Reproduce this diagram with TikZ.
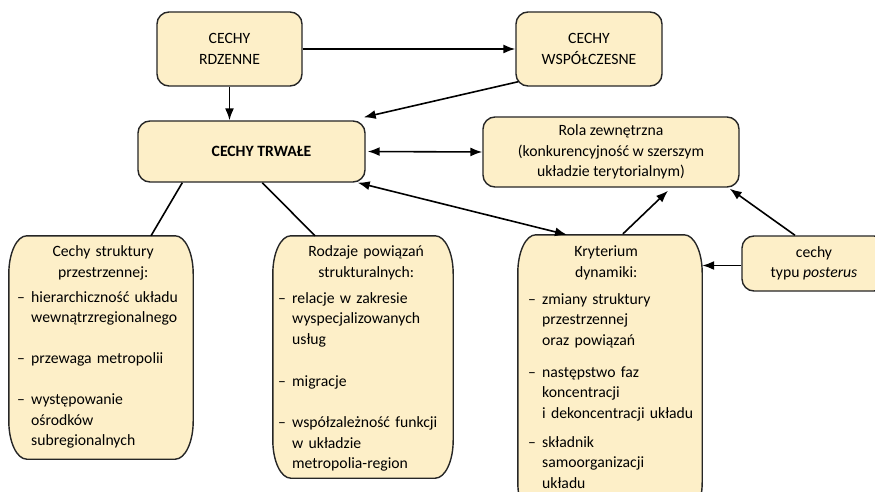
\documentclass[tikz,border=0pt]{standalone}
\usepackage{fontspec}
\setmainfont{Carlito}
\usetikzlibrary{arrows.meta,calc}
\definecolor{boxfill}{HTML}{FDEFC8}
\definecolor{boxline}{HTML}{262626}
\newcommand{\fs}{\fontsize{15.7}{20.5}\selectfont}
\newcommand{\dashitem}[1]{\par\hangindent=14pt\hangafter=1\noindent\makebox[14pt][l]{–}#1\par}
\newcommand{\hdr}[2]{\makebox[#1][c]{#2}}
\newcommand{\curvyframe}[1]{%
  \draw[boxborder] ([xshift=18pt]#1.north west) -- ([xshift=-18pt]#1.north east)
    arc[start angle=90,end angle=0,x radius=18pt,y radius=38pt]
    -- ([yshift=38pt]#1.south east)
    arc[start angle=0,end angle=-90,x radius=18pt,y radius=38pt]
    -- ([xshift=18pt]#1.south west)
    arc[start angle=-90,end angle=-180,x radius=18pt,y radius=38pt]
    -- ([yshift=-38pt]#1.north west)
    arc[start angle=180,end angle=90,x radius=18pt,y radius=38pt]
    -- cycle;}
\tikzset{
  boxborder/.style={draw=boxline, line width=1.4pt, fill=boxfill},
  topbox/.style={boxborder, rounded corners=12pt, align=center, inner sep=0pt},
  frame/.style={minimum width=#1, inner sep=0pt},
  bodytext/.style={anchor=north west, inner sep=0pt, text width=250pt,
    execute at begin node={\setlength{\parindent}{0pt}\raggedright}},
  arr/.style={line width=1.6pt, draw=black, -{Latex[length=12pt,width=9pt]}},
  dbl/.style={line width=1.6pt, draw=black, {Latex[length=12pt,width=9pt]}-{Latex[length=12pt,width=9pt]}},
  plainline/.style={line width=1.6pt, draw=black}
}
\begin{document}
\begin{tikzpicture}[x=1pt,y=-1pt, every node/.style={font=\fs}]
\clip (0,0) rectangle (875,492);
\fill[white] (0,0) rectangle (875,492);
% top boxes
\node[topbox, minimum width=145pt, minimum height=74pt] (rdz) at (229.5,49) {CECHY\\RDZENNE};
\node[topbox, minimum width=146pt, minimum height=74pt] (wsp) at (589,49) {CECHY\\WSPÓŁCZESNE};
\node[topbox, minimum width=227pt, minimum height=61pt] (trw) at (251.5,151.5) {\hspace*{20pt}\textbf{CECHY TRWAŁE}};
\node[topbox, minimum width=256pt, minimum height=70pt] (rola) at (611,152) {Rola zewnętrzna\\(konkurencyjność w szerszym\\układzie terytorialnym)};
\node[topbox, minimum width=144pt, minimum height=55pt] (post) at (814,263.5) {cechy\\typu \textit{posterus}};
% curvy boxes
\node[frame=184pt, minimum height=223pt] (lbox) at (101,347.5) {};
\curvyframe{lbox}
\node[frame=180pt, minimum height=242pt] (mbox) at (363,357) {};
\curvyframe{mbox}
\node[frame=184pt, minimum height=285pt] (kry) at (610,377.5) {};
\curvyframe{kry}
% texts
\node[bodytext] (ltext) at (17,242) {\strut\hdr{172pt}{Cechy struktury}\newline\hdr{172pt}{przestrzennej:}\par\vspace{4.5pt}
\dashitem{hierarchiczność układu\newline wewnątrzregionalnego}
\vspace{20pt}
\dashitem{przewaga metropolii}
\vspace{21pt}
\dashitem{występowanie\newline ośrodków\newline subregionalnych}};
\node[bodytext] (mtext) at (278,242) {\strut\hdr{176pt}{Rodzaje powiązań}\newline\hdr{176pt}{strukturalnych:}\par\vspace{5.5pt}
\dashitem{relacje w zakresie\newline wyspecjalizowanych\newline usług}
\vspace{22pt}
\dashitem{migracje}
\vspace{20.5pt}
\dashitem{współzależność funkcji\newline w układzie\newline metropolia-region}};
\node[bodytext] (ktext) at (528,242) {\strut\hdr{156pt}{Kryterium}\newline\hdr{156pt}{dynamiki:}\par\vspace{6.5pt}
\dashitem{zmiany struktury\newline przestrzennej\newline oraz powiązań}
\vspace{11.5pt}
\dashitem{następstwo faz\newline koncentracji\newline i dekoncentracji układu}
\vspace{8.5pt}
\dashitem{składnik\newline samoorganizacji\newline układu}};
% connectors
\draw[arr] (rdz) -- (wsp);
\draw[arr] (rdz.south) -- (rdz.south |- trw.north);
\draw[arr] ([xshift=3pt,yshift=5pt]wsp.south west) -- ([xshift=-2pt,yshift=3pt]trw.north east);
\draw[dbl] ([xshift=2pt]trw.east) -- (rola.west);
\draw[dbl] ([xshift=-8pt]trw.south east) -- ([xshift=-43pt]kry.north);
\draw[arr] ([xshift=13pt,yshift=1pt]kry.north) -- ([xshift=57pt,yshift=-3pt]rola.south);
\draw[arr] ([xshift=-19pt]post.north) -- ([xshift=-10pt,yshift=-1pt]rola.south east);
\draw[arr] ($(post.west)+(0,2)$) -- ($(post.west -| kry.east)+(0,2)$);
\draw[plainline] ([xshift=45pt]trw.south west) -- ([xshift=50pt]lbox.north);
\draw[plainline] ([xshift=125pt]trw.south west) -- ([xshift=-48pt]mbox.north);
\end{tikzpicture}
\end{document}
